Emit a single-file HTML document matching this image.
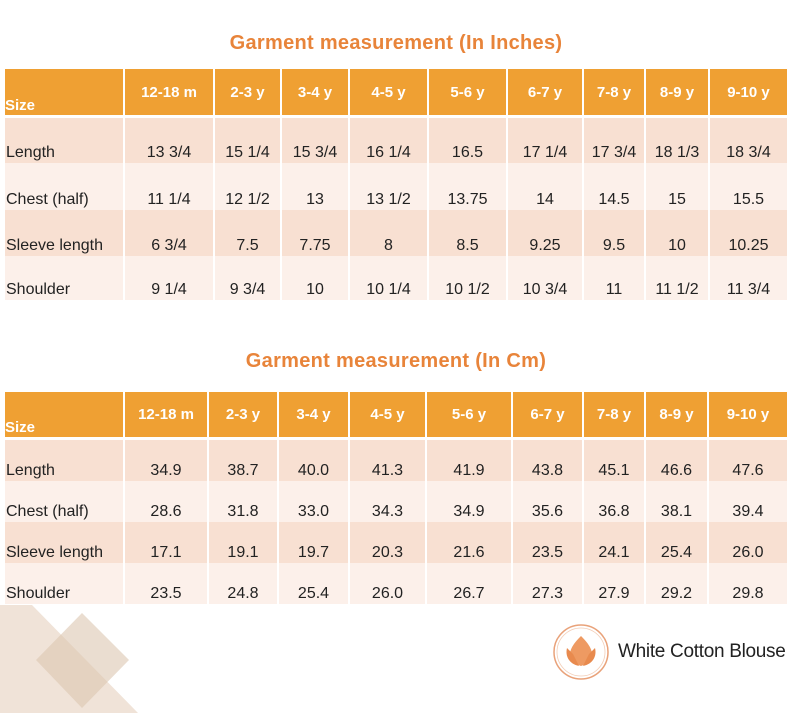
<!DOCTYPE html>
<html><head><meta charset="utf-8"><style>
body{margin:0;width:792px;height:713px;background:#fff;position:relative;overflow:hidden;font-family:"Liberation Sans",sans-serif}
.t{position:absolute;left:0;width:792px;text-align:center;color:#E8843A;font-weight:bold;font-size:20px;letter-spacing:0.3px}
table{position:absolute;left:5px;border-collapse:collapse;table-layout:fixed;width:782px}
td{border:0;border-left:2px solid #fff;text-align:center;vertical-align:bottom;font-size:16px;color:#222;padding:0 0 1px 0;white-space:nowrap}
td:first-child{text-align:left;border-left:0;padding-left:1px}
tr.h td{background:#EFA033;color:#fff;font-weight:bold;font-size:15px;vertical-align:middle;padding:0}
tr.h td:first-child{vertical-align:bottom;padding-bottom:1px}
tr.gap td{height:3px;padding:0;background:#fff}
tr.a td{background:#F8E0D2}
tr.b td{background:#FCF0EA}
</style></head><body>
<div class="t" style="top:32px">Garment measurement (In Inches)</div>
<table style="top:69px">
<colgroup><col style="width:119px"><col style="width:90px"><col style="width:67px"><col style="width:68px"><col style="width:79px"><col style="width:79px"><col style="width:76px"><col style="width:62px"><col style="width:64px"><col style="width:78px"></colgroup>
<tr class="h" style="height:46px"><td>Size</td><td>12-18 m</td><td>2-3 y</td><td>3-4 y</td><td>4-5 y</td><td>5-6 y</td><td>6-7 y</td><td>7-8 y</td><td>8-9 y</td><td>9-10 y</td></tr>
<tr class="gap"><td></td><td></td><td></td><td></td><td></td><td></td><td></td><td></td><td></td><td></td></tr>
<tr class="a" style="height:45px"><td>Length</td><td>13 3/4</td><td>15 1/4</td><td>15 3/4</td><td>16 1/4</td><td>16.5</td><td>17 1/4</td><td>17 3/4</td><td>18 1/3</td><td>18 3/4</td></tr>
<tr class="b" style="height:47px"><td>Chest (half)</td><td>11 1/4</td><td>12 1/2</td><td>13</td><td>13 1/2</td><td>13.75</td><td>14</td><td>14.5</td><td>15</td><td>15.5</td></tr>
<tr class="a" style="height:46px"><td>Sleeve length</td><td>6 3/4</td><td>7.5</td><td>7.75</td><td>8</td><td>8.5</td><td>9.25</td><td>9.5</td><td>10</td><td>10.25</td></tr>
<tr class="b" style="height:44px"><td>Shoulder</td><td>9 1/4</td><td>9 3/4</td><td>10</td><td>10 1/4</td><td>10 1/2</td><td>10 3/4</td><td>11</td><td>11 1/2</td><td>11 3/4</td></tr>
</table>
<div class="t" style="top:350px">Garment measurement (In Cm)</div>
<table style="top:392px">
<colgroup><col style="width:119px"><col style="width:84px"><col style="width:70px"><col style="width:71px"><col style="width:77px"><col style="width:86px"><col style="width:71px"><col style="width:62px"><col style="width:63px"><col style="width:79px"></colgroup>
<tr class="h" style="height:45px"><td>Size</td><td>12-18 m</td><td>2-3 y</td><td>3-4 y</td><td>4-5 y</td><td>5-6 y</td><td>6-7 y</td><td>7-8 y</td><td>8-9 y</td><td>9-10 y</td></tr>
<tr class="gap"><td></td><td></td><td></td><td></td><td></td><td></td><td></td><td></td><td></td><td></td></tr>
<tr class="a" style="height:41px"><td>Length</td><td>34.9</td><td>38.7</td><td>40.0</td><td>41.3</td><td>41.9</td><td>43.8</td><td>45.1</td><td>46.6</td><td>47.6</td></tr>
<tr class="b" style="height:41px"><td>Chest (half)</td><td>28.6</td><td>31.8</td><td>33.0</td><td>34.3</td><td>34.9</td><td>35.6</td><td>36.8</td><td>38.1</td><td>39.4</td></tr>
<tr class="a" style="height:41px"><td>Sleeve length</td><td>17.1</td><td>19.1</td><td>19.7</td><td>20.3</td><td>21.6</td><td>23.5</td><td>24.1</td><td>25.4</td><td>26.0</td></tr>
<tr class="b" style="height:41px"><td>Shoulder</td><td>23.5</td><td>24.8</td><td>25.4</td><td>26.0</td><td>26.7</td><td>27.3</td><td>27.9</td><td>29.2</td><td>29.8</td></tr>
</table>
<svg style="position:absolute;left:0;top:600px" width="200" height="113">
<polygon points="0,5 32,5 138,113 0,113" fill="#F0E3D8"/>
<polygon points="82,13 129,60 82,108 36,60" fill="#DCC6B0" opacity="0.6"/>
</svg>
<svg style="position:absolute;left:551px;top:622px" width="60" height="60">
<circle cx="30" cy="30" r="27" fill="none" stroke="#E9A27A" stroke-width="1.5"/>
<circle cx="30" cy="30" r="24" fill="none" stroke="#F3CDB6" stroke-width="0.8"/>
<path d="M30 14 C22 22 16 30 20 40 L30 44 L40 40 C44 30 38 22 30 14Z" fill="#EE9A62"/>
<path d="M16 26 C14 34 18 42 28 44 L22 32Z M44 26 C46 34 42 42 32 44 L38 32Z" fill="#E88A4E"/>
</svg>
<div style="position:absolute;left:618px;top:641px;font-size:19px;color:#222;font-family:'Liberation Sans',sans-serif;letter-spacing:-0.3px">White Cotton Blouse</div>
</body></html>
